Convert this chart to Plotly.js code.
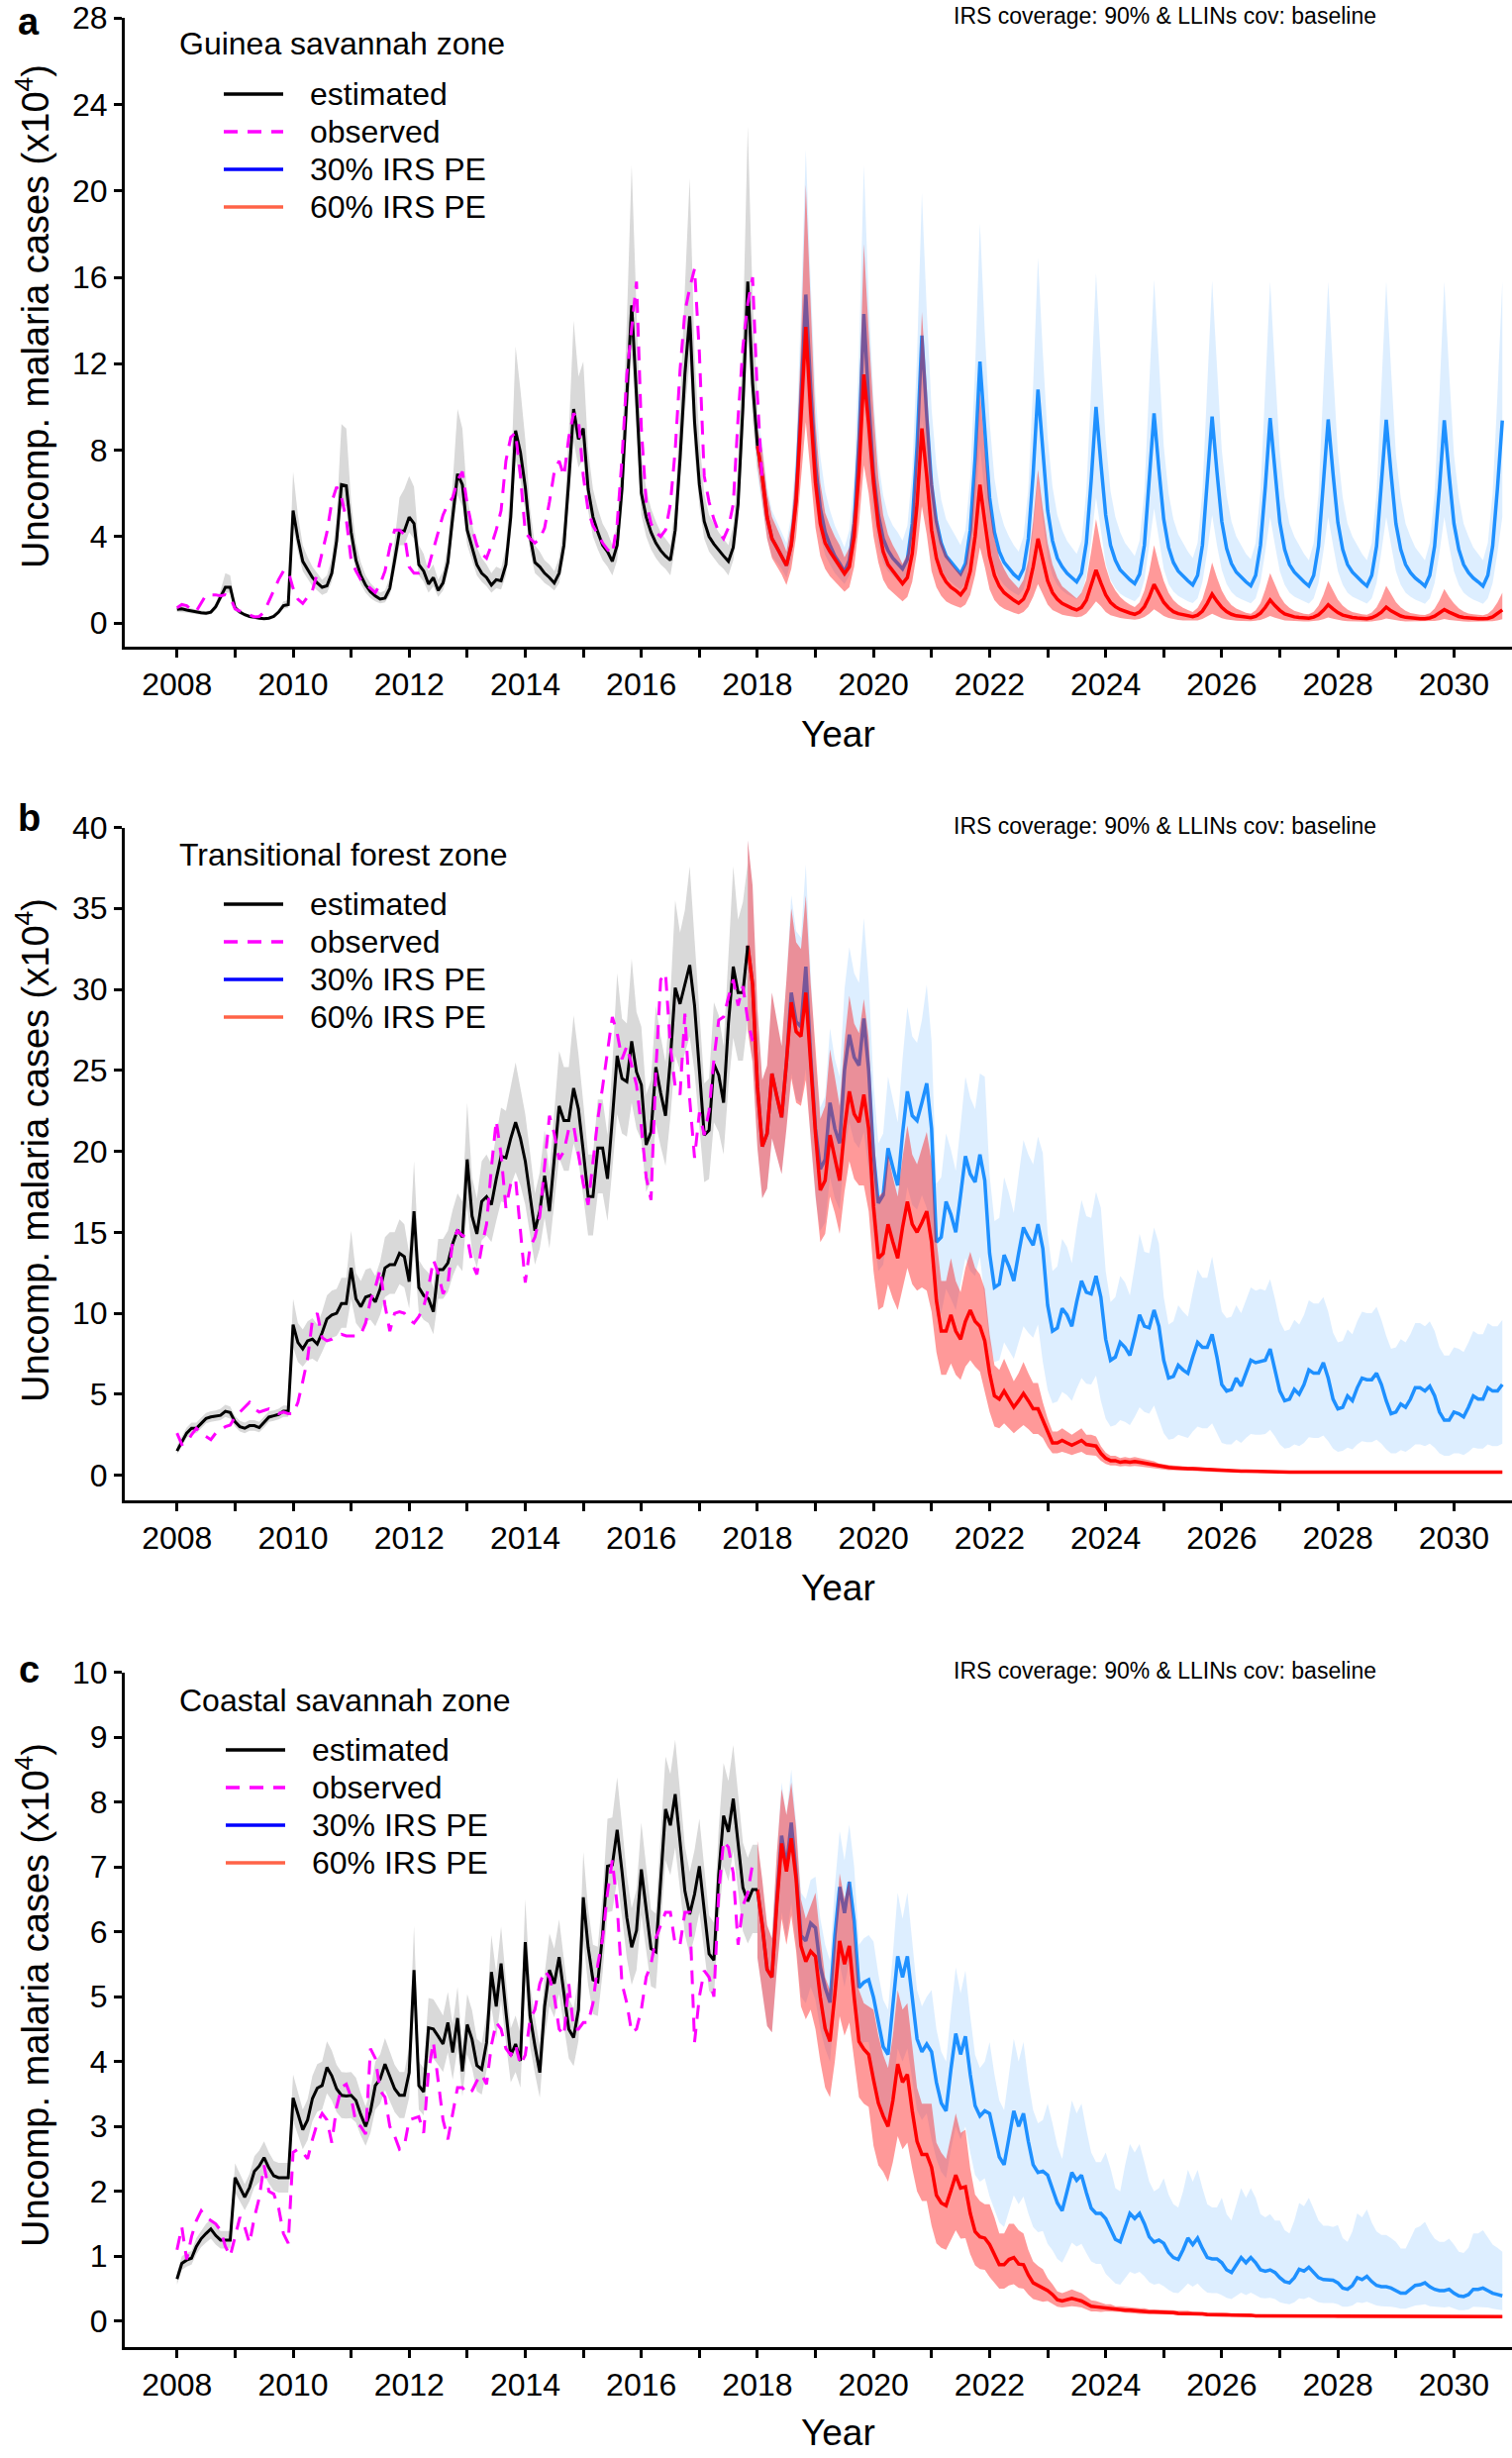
<!DOCTYPE html>
<html>
<head>
<meta charset="utf-8">
<script src="https://cdn.plot.ly/plotly-3.0.1.min.js"></script>
<style>body{margin:0;background:#fff}</style>
</head>
<body>
<div id="chart" style="width:1527px;height:2482px"></div>
<script>
// ---- axis ticks ----
const yearTicks = [2008,2010,2012,2014,2016,2018,2020,2022,2024,2026,2028,2030];
const yearLabels = ['2008','2010','2012','2014','2016','2018','2020','2022','2024','2026','2028','2030'];
const oddYears = [2009,2011,2013,2015,2017,2019,2021,2023,2025,2027,2029];
const aTicks = [0,4,8,12,16,20,24,28];
const bTicks = [0,5,10,15,20,25,30,35,40];
const cTicks = [0,1,2,3,4,5,6,7,8,9,10];

// monthly series start points (decimal years)
const histStart = 2008;
const aProjStart = 2018;
const bProjStart = 2017 + 10/12;
const cProjStart = 2018;

// ---- panel a: Guinea savannah zone ----
const aEst = [0.63,0.65,0.6,0.55,0.5,0.47,0.45,0.5,0.75,1.2,1.65,1.65,
  0.7,0.5,0.38,0.3,0.25,0.22,0.2,0.22,0.3,0.5,0.8,0.85,
  5.2,3.9,2.85,2.5,2.1,1.85,1.65,1.72,2.3,3.8,6.4,6.35,
  4.2,2.9,2.2,1.75,1.45,1.25,1.1,1.15,1.6,2.9,4.25,4.25,
  4.9,4.6,2.7,2.4,1.8,2.1,1.5,1.85,2.8,4.9,6.9,6.4,
  4.3,3.5,2.7,2.3,2.1,1.75,2.0,1.95,2.7,4.9,8.9,7.9,
  6.3,4.0,2.8,2.6,2.3,2.1,1.85,2.3,3.6,6.6,9.9,8.5,
  9.0,6.2,4.9,4.2,3.6,3.3,2.85,3.6,6.2,10.5,14.7,10.5,
  6.0,4.9,4.2,3.7,3.35,3.1,2.9,4.3,7.6,11.5,14.2,9.3,
  6.4,4.7,4.0,3.65,3.35,3.1,2.85,3.5,5.5,10.0,15.8,11.1,
  8.2];
const aEstLo = [0.5,0.5,0.48,0.44,0.4,0.38,0.36,0.4,0.6,1.0,1.4,1.4,
  0.55,0.4,0.3,0.24,0.2,0.18,0.16,0.18,0.24,0.4,0.65,0.7,
  4.4,3.3,2.4,2.05,1.7,1.5,1.3,1.4,1.9,3.1,5.4,5.4,
  3.5,2.4,1.8,1.4,1.15,1.0,0.9,0.95,1.3,2.4,3.6,3.6,
  4.2,3.9,2.2,1.9,1.4,1.7,1.2,1.5,2.3,4.2,5.9,5.4,
  3.6,2.9,2.2,1.9,1.7,1.4,1.6,1.55,2.2,4.1,7.6,6.6,
  5.2,3.3,2.3,2.1,1.85,1.7,1.5,1.85,3.0,5.6,8.4,7.2,
  7.6,5.2,4.0,3.4,2.9,2.6,2.2,2.9,5.2,8.9,12.5,8.9,
  5.0,4.0,3.4,3.0,2.7,2.5,2.2,3.5,6.4,9.8,12.1,7.9,
  5.4,3.9,3.3,3.0,2.7,2.5,2.2,2.9,4.6,8.5,13.4,9.4,
  6.9];
const aEstHi = [0.75,0.78,0.72,0.66,0.6,0.57,0.55,0.6,0.9,1.5,2.3,2.2,
  0.85,0.6,0.46,0.36,0.3,0.27,0.25,0.27,0.37,0.62,1.0,1.05,
  7.0,5.0,3.6,3.05,2.6,2.3,2.0,2.2,3.0,4.9,9.2,9.0,
  5.6,3.7,2.8,2.2,1.85,1.6,1.4,1.5,2.1,3.8,5.8,6.2,
  6.8,6.3,3.6,3.2,2.4,2.7,2.0,2.4,3.6,6.5,9.9,9.0,
  5.8,4.6,3.5,3.0,2.7,2.3,2.6,2.5,3.5,6.5,12.8,10.8,
  8.5,5.3,3.6,3.3,2.9,2.7,2.4,3.0,4.7,8.8,14.0,11.4,
  12.1,8.0,6.2,5.3,4.6,4.2,3.6,4.6,8.0,14.0,21.2,14.5,
  7.8,6.2,5.3,4.7,4.2,3.9,3.6,5.5,10.0,15.5,20.6,12.5,
  8.5,6.0,5.0,4.6,4.2,3.9,3.6,4.5,7.2,13.5,23.0,15.0,
  10.5];
const aObs = [0.7,0.85,0.8,0.6,0.55,0.9,1.3,1.3,1.3,1.25,1.3,1.2,
  0.65,0.55,0.45,0.35,0.28,0.3,0.5,1.0,1.5,2.0,2.4,2.4,
  1.6,1.1,0.9,1.2,1.5,2.3,3.2,4.2,5.6,6.3,5.8,4.8,
  2.9,2.4,2.0,1.8,1.6,1.4,1.8,2.4,3.5,4.3,4.3,4.1,
  2.6,2.3,2.3,2.4,2.6,3.4,4.1,5.0,5.5,5.8,6.6,7.0,
  5.5,4.4,3.6,3.2,3.0,3.6,4.3,5.2,7.5,8.6,8.8,6.8,
  4.2,3.9,3.7,3.9,4.4,5.6,7.0,7.5,6.8,8.6,9.7,9.4,
  6.8,5.2,4.5,4.1,3.7,3.4,3.2,4.6,7.6,11.5,13.5,15.8,
  9.0,5.6,4.6,4.2,4.0,4.3,5.5,8.0,11.7,14.4,15.5,16.4,
  12.5,6.8,5.6,4.8,4.2,3.9,4.4,5.5,9.5,12.8,14.8,16.0,
  10.5,6.5];
const aBlue = [8.2,6.8,4.9,3.9,3.5,3.1,2.66,3.65,5.9,10.4,15.2,10.9,
  7.3,5.3,4.2,3.6,3.1,2.75,2.37,2.9,4.6,8.5,14.3,10.3,
  6.9,5.0,3.9,3.35,3.0,2.75,2.5,2.95,4.6,8.2,13.3,9.6,
  6.4,4.7,3.7,3.1,2.8,2.55,2.28,2.75,4.3,7.6,12.1,8.7,
  5.8,4.2,3.3,2.8,2.5,2.25,2.05,2.5,3.9,6.9,10.8,7.8,
  5.2,3.8,3.0,2.6,2.3,2.1,1.9,2.3,3.7,6.6,10.0,7.4,
  5.0,3.6,2.9,2.45,2.2,2.0,1.82,2.25,3.6,6.5,9.7,7.1,
  4.8,3.5,2.8,2.4,2.15,1.95,1.76,2.2,3.6,6.4,9.55,7.0,
  4.7,3.45,2.75,2.35,2.1,1.9,1.72,2.2,3.6,6.3,9.48,6.9,
  4.65,3.4,2.7,2.35,2.1,1.9,1.71,2.2,3.55,6.3,9.42,6.9,
  4.65,3.4,2.7,2.35,2.1,1.9,1.71,2.2,3.55,6.3,9.4,6.9,
  4.6,3.4,2.7,2.33,2.08,1.9,1.7,2.2,3.55,6.25,9.38,6.85,
  4.6,3.4,2.7,2.33,2.08,1.9,1.7,2.2,3.55,6.25,9.37];
const aBlueHi = [9.5,8.3,6.3,5.2,4.7,4.2,3.7,5.0,8.1,14.5,21.9,15.8,
  10.6,7.7,6.1,5.2,4.5,4.0,3.5,4.3,6.8,12.5,21.2,15.0,
  10.4,7.5,5.9,5.0,4.5,4.2,3.8,4.5,7.0,12.4,19.9,14.5,
  9.9,7.3,5.7,4.8,4.4,4.0,3.6,4.3,6.7,11.8,18.5,13.5,
  9.3,6.7,5.3,4.5,4.0,3.6,3.3,4.0,6.2,11.0,16.9,12.5,
  8.6,6.3,5.0,4.3,3.8,3.5,3.2,3.8,6.1,10.9,16.2,12.2,
  8.5,6.1,4.9,4.2,3.7,3.4,3.1,3.8,6.1,11.0,15.9,12.1,
  8.2,6.0,4.8,4.1,3.7,3.3,3.0,3.7,6.1,10.9,15.85,11.9,
  8.0,5.9,4.7,4.0,3.6,3.2,2.95,3.7,6.1,10.7,15.8,11.7,
  7.9,5.8,4.6,4.0,3.6,3.2,2.9,3.7,6.0,10.7,15.8,11.7,
  7.9,5.8,4.6,4.0,3.6,3.2,2.9,3.7,6.0,10.7,15.8,11.7,
  7.8,5.8,4.6,4.0,3.5,3.2,2.9,3.7,6.0,10.6,15.8,11.6,
  7.8,5.8,4.6,4.0,3.5,3.2,2.9,3.7,6.0,10.6,15.8];
const aBlueLo = [6.9,5.5,3.9,3.1,2.8,2.5,2.1,2.9,4.6,7.9,11.3,8.0,
  5.5,4.0,3.15,2.7,2.3,2.05,1.8,2.2,3.4,6.2,10.4,7.5,
  5.0,3.6,2.8,2.4,2.15,1.95,1.8,2.1,3.3,5.8,9.4,6.8,
  4.4,3.2,2.5,2.1,1.9,1.7,1.55,1.85,2.9,5.1,8.2,5.9,
  3.6,2.6,2.05,1.75,1.55,1.4,1.27,1.55,2.4,4.3,6.7,4.8,
  3.0,2.2,1.75,1.5,1.33,1.22,1.1,1.33,2.15,3.8,5.8,4.3,
  2.75,2.0,1.6,1.35,1.2,1.1,1.0,1.24,2.0,3.6,5.3,3.9,
  2.5,1.8,1.46,1.25,1.12,1.0,0.92,1.14,1.9,3.3,5.0,3.6,
  2.45,1.8,1.43,1.22,1.1,0.99,0.9,1.14,1.9,3.3,4.9,3.6,
  2.4,1.77,1.4,1.22,1.1,0.99,0.89,1.14,1.85,3.3,4.9,3.6,
  2.4,1.77,1.4,1.22,1.1,0.99,0.89,1.14,1.85,3.3,4.9,3.6,
  2.4,1.77,1.4,1.21,1.08,0.99,0.88,1.14,1.85,3.25,4.9,3.56,
  2.4,1.77,1.4,1.21,1.08,0.99,0.88,1.14,1.85,3.25,4.9];
const aRed = [8.2,6.8,4.9,3.9,3.5,3.1,2.66,3.6,5.6,9.5,13.7,9.8,
  6.5,4.6,3.7,3.3,2.95,2.65,2.28,2.6,4.0,7.0,11.5,9.2,
  6.5,4.5,3.3,2.7,2.4,2.1,1.82,2.1,3.2,5.5,9.0,6.8,
  4.3,3.0,2.3,1.9,1.65,1.5,1.3,1.6,2.4,4.0,6.4,4.7,
  3.1,2.2,1.7,1.4,1.2,1.05,0.91,1.1,1.6,2.6,3.9,2.9,
  1.95,1.4,1.1,0.9,0.78,0.68,0.6,0.72,1.05,1.7,2.45,1.85,
  1.3,0.95,0.75,0.62,0.53,0.46,0.4,0.5,0.75,1.2,1.78,1.35,
  0.95,0.7,0.52,0.43,0.37,0.32,0.29,0.36,0.55,0.9,1.33,1.0,
  0.72,0.52,0.4,0.33,0.29,0.26,0.24,0.3,0.45,0.72,1.06,0.8,
  0.58,0.42,0.33,0.28,0.25,0.23,0.22,0.27,0.38,0.58,0.84,0.65,
  0.48,0.36,0.29,0.25,0.23,0.21,0.2,0.24,0.34,0.5,0.73,0.56,
  0.42,0.32,0.26,0.23,0.21,0.2,0.2,0.23,0.31,0.45,0.62,0.5,
  0.38,0.3,0.25,0.22,0.2,0.19,0.19,0.21,0.28,0.42,0.6];
const aRedHi = [9.0,8.0,6.0,4.9,4.4,3.9,3.3,4.6,7.3,13.0,20.3,14.5,
  9.3,6.5,5.1,4.5,4.0,3.6,3.04,3.5,5.5,10.0,17.55,13.5,
  9.8,6.7,5.0,4.1,3.6,3.2,2.73,3.2,4.9,8.6,14.4,10.9,
  7.1,5.0,3.8,3.2,2.8,2.5,2.28,2.7,4.1,6.8,10.7,8.0,
  5.5,3.9,3.0,2.5,2.1,1.85,1.6,2.0,2.9,4.7,7.1,5.3,
  3.7,2.7,2.1,1.7,1.5,1.3,1.14,1.4,2.0,3.3,4.8,3.6,
  2.6,1.9,1.5,1.2,1.0,0.85,0.73,0.95,1.5,2.4,3.6,2.7,
  1.95,1.4,1.05,0.85,0.7,0.6,0.51,0.7,1.1,1.85,2.8,2.1,
  1.5,1.1,0.82,0.66,0.55,0.47,0.43,0.58,0.92,1.55,2.3,1.75,
  1.25,0.9,0.7,0.56,0.48,0.43,0.4,0.52,0.8,1.3,1.94,1.5,
  1.08,0.8,0.62,0.5,0.44,0.4,0.38,0.48,0.72,1.15,1.72,1.32,
  0.96,0.72,0.56,0.46,0.41,0.38,0.37,0.45,0.66,1.05,1.57,1.2,
  0.9,0.68,0.53,0.44,0.4,0.37,0.36,0.43,0.62,0.95,1.4];
const aRedLo = [7.3,5.6,3.9,3.0,2.6,2.25,1.75,2.5,4.0,6.5,9.3,6.9,
  4.4,3.1,2.5,2.15,1.9,1.7,1.45,1.65,2.6,4.6,7.3,6.0,
  4.0,2.8,2.0,1.6,1.4,1.2,1.0,1.2,1.9,3.3,5.4,4.1,
  2.4,1.65,1.25,1.0,0.87,0.78,0.7,0.85,1.3,2.2,3.5,2.6,
  1.55,1.05,0.8,0.65,0.55,0.47,0.4,0.5,0.75,1.2,1.8,1.35,
  0.85,0.6,0.47,0.38,0.33,0.29,0.26,0.3,0.44,0.7,1.0,0.78,
  0.5,0.36,0.28,0.23,0.2,0.17,0.15,0.18,0.27,0.43,0.63,0.48,
  0.32,0.23,0.17,0.14,0.12,0.11,0.1,0.12,0.18,0.29,0.42,0.32,
  0.22,0.16,0.12,0.1,0.09,0.08,0.08,0.1,0.14,0.22,0.32,0.24,
  0.17,0.12,0.1,0.08,0.08,0.07,0.07,0.08,0.11,0.17,0.25,0.19,
  0.14,0.1,0.08,0.07,0.07,0.06,0.06,0.07,0.1,0.14,0.21,0.16,
  0.12,0.09,0.07,0.07,0.06,0.06,0.06,0.07,0.09,0.13,0.18,0.14,
  0.11,0.08,0.07,0.06,0.06,0.06,0.06,0.06,0.08,0.12,0.17];

// ---- panel b: Transitional forest zone ----
const bEst = [1.5,2.1,2.6,2.9,2.9,3.2,3.5,3.6,3.65,3.7,3.95,3.87,
  3.3,3.0,2.9,3.06,3.06,2.94,3.26,3.59,3.67,3.75,3.95,3.95,
  9.3,8.2,7.8,8.3,8.4,8.1,8.8,9.65,9.9,10.0,10.6,10.6,
  12.8,10.9,10.4,11.0,11.1,10.7,11.5,12.8,13.0,13.0,13.7,13.5,
  11.95,16.3,11.6,11.1,10.9,10.1,12.7,12.7,13.1,14.3,15.15,14.7,
  19.5,16.0,14.9,16.9,17.2,16.7,18.3,19.7,19.6,20.8,21.8,20.8,
  19.4,17.3,15.1,16.3,18.5,16.3,19.6,22.8,21.9,21.9,23.9,22.6,
  20.0,17.2,17.2,20.2,20.2,18.3,22.0,25.9,24.5,24.3,26.8,24.9,
  24.1,20.4,21.2,25.2,23.6,22.2,25.7,30.1,29.1,30.3,31.5,29.0,
  24.9,21.0,21.3,25.4,24.7,23.0,27.9,31.4,29.8,29.8,32.7];
const bEstLo = [1.3,1.8,2.3,2.6,2.6,2.9,3.2,3.3,3.35,3.4,3.6,3.5,
  3.0,2.7,2.6,2.75,2.75,2.65,2.95,3.3,3.35,3.45,3.6,3.6,
  7.9,7.0,6.7,7.1,7.2,7.0,7.6,8.3,8.5,8.6,9.1,9.1,
  10.9,9.4,9.0,9.5,9.6,9.2,9.9,11.0,11.2,11.2,11.8,11.6,
  10.3,13.9,10.0,9.6,9.4,8.7,10.9,10.9,11.3,12.3,13.0,12.6,
  16.6,13.8,12.8,14.5,14.8,14.4,15.7,16.9,16.8,17.9,18.7,17.9,
  16.7,14.9,13.0,14.0,15.9,14.0,16.9,19.6,18.8,18.8,20.5,19.4,
  17.2,14.8,14.8,17.4,17.4,15.7,18.9,22.3,21.1,20.9,23.0,21.4,
  20.7,17.5,18.2,21.7,20.3,19.1,22.1,25.9,25.0,26.1,27.1,24.9,
  21.4,18.1,18.3,21.8,21.2,19.8,24.0,27.0,25.6,25.6,28.1];
const bEstHi = [1.85,2.45,2.95,3.25,3.25,3.55,3.85,3.95,4.0,4.1,4.35,4.25,
  3.65,3.35,3.25,3.4,3.4,3.3,3.6,3.95,4.0,4.1,4.3,4.3,
  10.9,9.4,9.0,9.5,9.7,9.3,10.1,11.1,11.4,11.5,12.2,12.2,
  15.1,12.5,12.0,12.7,12.8,12.3,13.2,14.7,15.0,15.0,15.8,15.5,
  13.7,19.4,13.3,12.8,12.5,11.6,14.6,14.6,15.1,16.4,17.4,16.9,
  23.0,18.4,17.1,19.4,19.8,19.2,21.0,22.7,22.5,23.9,25.5,23.9,
  22.3,19.9,17.4,18.7,21.3,18.7,22.5,26.2,25.2,25.2,28.4,26.0,
  23.0,19.8,19.8,23.2,23.2,21.0,25.3,31.0,28.2,27.9,31.9,28.6,
  27.7,23.5,24.4,29.0,27.1,25.5,29.6,35.5,33.5,34.9,37.6,33.4,
  28.6,24.2,24.5,29.2,28.4,26.5,32.1,37.6,34.3,35.4,37.8];
const bObs = [2.6,1.9,2.0,2.5,2.9,2.6,2.4,2.2,2.6,2.8,3.0,3.1,
  3.6,3.9,4.2,4.5,4.1,3.9,4.0,4.1,3.9,3.8,3.9,3.8,
  3.8,4.5,5.8,7.2,9.6,10.0,8.5,8.3,8.4,8.6,8.7,8.6,
  8.6,8.6,8.7,9.4,10.8,11.6,12.7,10.5,8.9,10.0,10.1,10.0,
  9.6,9.4,9.8,10.4,11.6,13.3,12.5,11.2,11.8,14.5,15.1,14.8,
  14.7,13.1,12.4,14.1,15.5,19.0,21.9,19.8,16.5,18.0,18.3,15.0,
  11.9,14.1,14.7,16.0,19.0,22.2,21.1,19.5,20.0,21.4,21.6,19.8,
  18.0,16.7,19.2,22.0,24.0,26.1,28.3,27.3,25.7,26.5,25.3,24.1,
  21.5,18.4,17.0,25.0,30.6,31.0,26.5,24.0,23.5,28.5,23.2,19.6,
  22.4,21.0,22.5,25.7,28.1,28.3,29.5,30.6,29.0,30.2,28.1,26.8];
const bBlue = [32.7,30.3,24.0,20.3,21.1,24.8,23.4,22.1,25.5,29.8,28.0,27.7,
  31.4,25.9,21.4,18.9,19.5,23.0,21.4,20.5,25.0,27.2,25.8,25.3,
  28.2,25.0,19.8,16.8,17.3,20.2,19.0,17.9,21.1,23.7,22.2,21.9,
  23.0,
  24.2,21.4,14.4,14.7,16.9,16.1,15.0,17.3,19.7,18.6,18.1,19.8,
  18.2,13.7,11.6,11.8,13.6,12.9,12.0,13.7,15.3,14.7,14.2,15.5,
  14.0,10.5,8.9,9.1,10.3,9.9,9.2,10.7,12.0,11.3,11.2,12.3,
  11.0,8.4,7.1,7.3,8.2,7.9,7.4,8.6,9.9,9.2,9.1,10.2,
  9.2,7.1,6.0,6.1,6.8,6.5,6.3,7.3,8.2,7.9,7.9,8.7,
  7.3,5.6,5.2,5.3,6.0,5.5,6.3,7.1,
  6.95,7.0,
  7.1,7.8,6.6,5.2,4.6,4.7,5.3,5.0,5.6,6.5,6.3,6.3,
  6.95,6.0,4.7,4.1,4.2,4.9,4.6,5.4,6.0,5.9,5.9,6.3,
  5.6,4.6,3.8,3.9,4.4,4.2,4.7,5.4,5.4,5.2,5.5,4.9,
  3.9,3.4,3.4,3.9,3.8,3.6,4.2,4.9,4.7,4.7,5.4,5.2,5.2,5.6];
const bBlueHi = [39.2,36.4,28.8,24.4,25.3,29.8,28.1,26.5,30.6,35.8,33.6,33.2,
  37.7,31.1,25.7,22.7,23.4,27.6,25.7,24.6,30.0,32.6,31.0,30.4,
  34.4,30.5,24.2,20.5,21.1,24.6,23.2,21.8,25.7,28.9,27.1,26.7,
  28.1,
  30.3,26.8,18.0,18.4,21.1,20.1,18.8,21.6,24.6,23.3,22.6,24.8,
  24.6,18.5,15.7,15.9,18.4,17.4,16.2,18.5,20.7,19.8,19.2,20.9,
  19.9,14.9,12.6,12.9,14.6,14.1,13.1,15.2,17.0,16.0,15.9,17.5,
  16.5,12.6,10.7,11.0,12.3,11.9,11.1,12.9,14.9,13.8,13.7,15.3,
  14.3,11.0,9.3,9.5,10.5,10.1,9.8,11.3,12.7,12.2,12.2,13.5,
  11.8,10.1,9.7,9.8,10.5,10.0,10.8,11.6,
  11.4,11.5,
  11.4,12.1,10.9,9.5,8.9,9.0,9.6,9.3,9.9,10.8,10.6,10.6,
  11.0,10.1,8.8,8.2,8.3,9.0,8.7,9.5,10.1,10.0,10.0,10.4,
  9.6,8.6,7.8,7.9,8.4,8.2,8.7,9.4,9.4,9.2,9.5,8.9,
  7.9,7.4,7.4,7.9,7.8,7.6,8.2,8.9,8.7,8.7,9.4,9.2,9.2,9.6];
const bBlueLo = [27.5,25.5,20.2,17.1,17.7,20.8,19.7,18.6,21.4,24.8,23.2,23.0,
  25.1,20.7,17.1,15.1,15.6,18.4,17.1,16.4,20.0,21.8,20.6,20.2,
  21.2,18.8,14.9,12.6,13.0,15.2,14.3,13.4,15.8,17.8,16.7,16.4,
  17.3,
  16.5,14.6,9.8,10.0,11.5,10.9,10.2,11.8,13.4,12.6,12.3,13.5,
  10.9,8.2,7.0,7.1,8.2,7.7,7.2,8.2,9.2,8.8,8.5,9.3,
  7.0,5.25,4.45,4.55,5.15,4.95,4.6,5.35,6.0,5.65,5.6,6.15,
  4.6,3.5,3.0,3.1,3.4,3.3,3.1,3.6,4.2,3.9,3.8,4.3,
  3.4,2.6,2.2,2.25,2.5,2.4,2.3,2.7,3.0,2.9,2.9,3.2,
  2.6,2.0,1.9,1.9,2.2,2.0,2.3,2.55,
  2.5,2.5,
  2.55,2.8,2.4,1.9,1.65,1.7,1.9,1.8,2.0,2.35,2.3,2.3,
  2.45,2.1,1.65,1.45,1.5,1.7,1.6,1.9,2.1,2.05,2.05,2.2,
  1.95,1.6,1.35,1.35,1.55,1.45,1.65,1.9,1.9,1.8,1.95,1.7,
  1.35,1.2,1.2,1.35,1.35,1.25,1.45,1.7,1.65,1.65,1.9,1.8,1.8,1.95];
const bRed = [32.7,30.3,24.0,20.3,21.1,24.8,23.4,22.1,25.5,29.2,27.4,27.1,
  29.8,25.3,21.1,17.6,18.2,21.0,19.7,18.2,21.4,23.7,22.3,21.8,
  23.5,21.4,16.6,13.4,13.7,15.5,14.4,13.4,15.3,16.9,15.5,15.0,
  15.6,
  16.3,14.4,10.8,8.9,8.9,9.9,8.9,8.4,9.5,10.2,9.5,9.2,
  8.3,6.3,4.9,4.7,5.2,4.7,4.2,4.6,5.05,4.6,4.1,4.1,
  3.4,2.6,2.0,2.0,2.15,2.0,1.85,2.0,2.15,1.9,1.85,1.8,
  1.35,1.05,0.9,0.9,0.8,0.85,0.8,0.85,0.8,0.75,0.7,0.65,
  0.55,0.5,0.48,0.46,0.43,0.42,0.4,0.4,0.38,0.36,0.36,0.33,
  0.3,0.28,0.27,0.26,0.25,0.25,0.25,0.24,
  0.24,0.25,
  0.25,0.24,0.23,0.22,0.21,0.2,0.2,0.21,0.21,0.21,0.2,0.2,
  0.2,0.19,0.19,0.19,0.2,0.2,0.2,0.2,0.19,0.19,0.18,0.18,
  0.18,0.19,0.19,0.19,0.19,0.18,0.18,0.18,0.18,0.18,0.18,0.19,
  0.19,0.19,0.19,0.18,0.18,0.18,0.18,0.18,0.19,0.19,0.19,0.2,0.2,0.2];
const bRedHi = [39.2,36.4,28.8,24.4,25.3,29.8,28.1,26.5,30.6,35.0,32.9,32.5,
  35.8,30.4,26.4,22.0,22.8,26.3,24.6,22.8,26.8,29.6,27.9,27.3,
  29.4,27.0,21.2,17.2,17.5,19.8,18.4,17.2,19.6,21.6,19.8,19.2,
  20.2,
  21.2,19.4,14.6,12.0,12.0,13.4,12.0,11.3,12.8,13.8,12.8,12.4,
  11.5,8.7,6.8,6.5,7.2,6.5,5.8,6.3,7.0,6.3,5.7,5.7,
  4.5,3.5,2.7,2.7,2.9,2.7,2.5,2.7,2.9,2.5,2.5,2.4,
  1.8,1.4,1.2,1.2,1.07,1.13,1.07,1.13,1.07,1.0,0.93,0.87,
  0.73,0.66,0.63,0.6,0.57,0.56,0.53,0.53,0.5,0.48,0.48,0.44,
  0.4,0.37,0.36,0.35,0.33,0.33,0.33,0.32,
  0.32,0.33,
  0.33,0.32,0.31,0.29,0.28,0.27,0.27,0.28,0.28,0.28,0.27,0.27,
  0.27,0.25,0.25,0.25,0.27,0.27,0.27,0.27,0.25,0.25,0.24,0.24,
  0.24,0.25,0.25,0.25,0.25,0.24,0.24,0.24,0.24,0.24,0.24,0.25,
  0.25,0.25,0.25,0.24,0.24,0.24,0.24,0.24,0.25,0.25,0.25,0.27,0.27,0.27];
const bRedLo = [27.5,25.5,20.2,17.1,17.7,20.8,19.7,18.6,21.4,24.5,23.0,22.8,
  24.4,20.7,17.3,14.4,14.9,17.2,16.2,14.9,17.5,19.4,18.3,17.9,
  17.9,16.3,12.6,10.2,10.4,11.8,10.9,10.2,11.6,12.8,11.8,11.4,
  11.6,
  11.4,10.1,7.6,6.2,6.2,6.9,6.2,5.9,6.7,7.1,6.7,6.4,
  5.1,3.9,3.0,2.9,3.2,2.9,2.6,2.85,3.1,2.85,2.55,2.55,
  2.3,1.75,1.35,1.35,1.45,1.35,1.25,1.35,1.45,1.27,1.25,1.2,
  0.9,0.7,0.6,0.6,0.54,0.57,0.54,0.57,0.54,0.5,0.47,0.44,
  0.37,0.33,0.32,0.31,0.29,0.28,0.27,0.27,0.25,0.24,0.24,0.22,
  0.2,0.19,0.18,0.17,0.17,0.17,0.17,0.16,
  0.16,0.17,
  0.17,0.16,0.15,0.15,0.14,0.13,0.13,0.14,0.14,0.14,0.13,0.13,
  0.13,0.13,0.13,0.13,0.13,0.13,0.13,0.13,0.13,0.13,0.12,0.12,
  0.12,0.12,0.12,0.12,0.12,0.12,0.12,0.12,0.12,0.12,0.12,0.12,
  0.12,0.12,0.12,0.12,0.12,0.12,0.12,0.12,0.12,0.12,0.12,0.13,0.13,0.13];

// ---- panel c: Coastal savannah zone ----
const cEst = [0.65,0.89,0.94,0.97,1.15,1.27,1.35,1.42,1.32,1.25,1.25,1.25,
  2.21,2.06,1.91,2.06,2.31,2.39,2.52,2.36,2.24,2.21,2.21,2.21,
  3.44,3.2,2.95,3.1,3.43,3.59,3.63,3.91,3.78,3.58,3.48,3.47,
  3.48,3.4,3.18,3.0,3.23,3.63,3.73,3.96,3.78,3.58,3.48,3.48,
  3.83,5.41,3.63,3.53,4.52,4.5,4.39,4.27,4.6,4.14,4.67,3.85,
  4.57,4.34,3.94,3.88,4.29,5.38,4.85,5.51,4.77,4.09,4.27,4.01,
  5.84,4.7,4.24,3.83,4.85,5.41,5.2,5.61,5.05,4.5,4.37,4.8,
  6.53,5.76,5.26,5.23,5.97,7.01,7.03,7.57,6.93,6.22,5.76,6.02,
  6.96,6.32,5.74,5.69,6.83,7.89,7.64,8.12,7.39,6.63,6.27,6.58,
  7.01,6.37,5.66,5.56,6.88,7.79,7.54,8.05,7.34,6.68,6.47,6.65,
  6.65];
const cEstHi = [0.75,1.0,1.05,1.08,1.28,1.4,1.5,1.57,1.47,1.39,1.39,1.39,
  2.43,2.27,2.11,2.27,2.54,2.63,2.77,2.6,2.47,2.44,2.44,2.44,
  3.8,3.53,3.26,3.42,3.78,3.96,4.0,4.31,4.17,3.95,3.84,3.83,
  3.84,3.75,3.51,3.31,3.56,4.0,4.11,4.36,4.17,3.95,3.84,3.84,
  4.22,6.09,4.0,3.9,4.98,4.96,4.84,4.71,5.07,4.57,5.15,4.25,
  5.04,4.79,4.35,4.28,4.73,5.95,5.36,6.08,5.26,4.51,4.71,4.43,
  6.5,5.19,4.68,4.23,5.35,5.97,5.74,6.19,5.57,4.97,4.82,5.3,
  7.23,6.36,5.8,5.77,6.59,7.74,7.76,8.38,7.65,6.87,6.36,6.65,
  7.68,6.98,6.34,6.28,7.54,8.7,8.43,8.96,8.16,7.32,6.92,7.26,
  7.74,7.03,6.25,6.14,7.6,8.6,8.32,8.88,8.1,7.37,7.14,7.34,
  7.34];
const cEstLo = [0.56,0.79,0.84,0.87,1.03,1.14,1.21,1.27,1.18,1.12,1.12,1.12,
  1.98,1.85,1.71,1.85,2.07,2.14,2.26,2.12,2.01,1.98,1.98,1.98,
  3.09,2.88,2.65,2.79,3.08,3.23,3.26,3.51,3.4,3.22,3.13,3.12,
  3.13,3.06,2.86,2.7,2.9,3.26,3.35,3.56,3.4,3.22,3.13,3.13,
  3.44,4.85,3.26,3.17,4.06,4.05,3.95,3.84,4.14,3.72,4.2,3.46,
  4.11,3.9,3.54,3.49,3.86,4.84,4.36,4.95,4.29,3.68,3.84,3.6,
  5.25,4.23,3.81,3.44,4.36,4.86,4.68,5.04,4.54,4.05,3.93,4.32,
  5.87,5.18,4.73,4.7,5.37,6.3,6.32,6.81,6.23,5.59,5.18,5.41,
  6.26,5.68,5.16,5.12,6.14,7.1,6.87,7.3,6.65,5.96,5.64,5.92,
  6.3,5.73,5.09,5.0,6.19,7.01,6.78,7.24,6.6,6.01,5.82,5.98,
  5.98];
const cObs = [1.1,1.45,0.95,1.3,1.55,1.7,1.6,1.55,1.5,1.4,1.15,1.0,
  1.3,1.6,1.45,1.2,1.6,1.9,2.4,2.0,1.96,1.75,1.35,1.2,
  2.6,2.65,2.6,2.5,2.8,3.05,3.2,3.1,2.75,3.3,3.6,3.65,
  3.45,3.05,3.0,2.88,4.2,4.05,3.55,3.45,3.0,2.85,2.65,2.7,
  3.1,3.13,3.15,2.9,3.85,4.3,3.7,3.1,2.8,3.2,3.6,3.6,
  3.5,3.55,3.7,3.8,3.65,4.25,4.6,4.5,4.2,4.1,4.25,3.95,
  4.1,4.65,4.8,5.2,5.4,5.3,5.0,4.5,4.4,5.2,4.5,4.5,
  4.6,4.6,4.9,5.5,5.9,6.6,7.1,6.4,5.2,4.9,4.45,4.5,
  4.8,5.3,5.5,5.9,6.1,6.3,6.3,5.8,5.8,6.3,6.3,4.3,
  5.0,5.4,5.3,5.0,6.6,7.4,7.3,6.9,5.8,6.4,6.6,7.05];
const cBlue = [6.65,6.1,5.42,5.3,6.49,7.48,7.0,7.68,6.89,5.94,5.86,6.13,
  6.06,5.46,5.14,4.91,5.94,6.69,6.29,6.77,6.17,5.14,5.22,5.26,
  4.99,4.59,4.23,4.11,4.83,5.62,5.3,5.62,4.99,4.35,4.15,4.27,
  4.15,3.68,3.36,3.24,3.88,4.43,4.11,4.39,3.8,3.32,3.16,3.24,
  3.2,2.85,2.53,2.41,2.85,3.24,3.0,3.2,2.77,2.41,2.29,2.31,
  2.25,2.05,1.82,1.7,1.98,2.29,2.17,2.25,1.98,1.74,1.66,1.66,
  1.58,1.42,1.26,1.22,1.46,1.66,1.58,1.66,1.5,1.3,1.22,1.25,
  1.2,1.06,0.98,0.95,1.1,1.28,1.18,1.28,1.12,0.98,0.96,0.96,
  0.9,0.79,0.75,0.87,0.98,0.9,0.98,0.9,0.79,0.77,0.79,0.75,
  0.67,0.61,0.59,0.67,0.8,0.77,0.83,0.75,0.67,0.64,0.64,0.63,
  0.59,0.51,0.49,0.55,0.67,0.64,0.69,0.61,0.55,0.53,0.53,0.51,
  0.47,0.43,0.43,0.49,0.55,0.56,0.59,0.53,0.49,0.47,0.47,0.49,
  0.43,0.39,0.38,0.41,0.49,0.49,0.51,0.47,0.43,0.41,0.39];
const cBlueHi = [7.4,6.8,6.1,5.9,7.2,8.3,7.8,8.5,7.7,6.6,6.5,6.8,
  6.85,6.2,5.8,5.55,6.7,7.55,7.1,7.65,7.0,5.8,5.9,5.95,
  5.85,5.35,4.95,4.8,5.65,6.6,6.2,6.6,5.85,5.1,4.85,5.0,
  5.1,4.5,4.15,4.0,4.75,5.45,5.05,5.4,4.7,4.1,3.9,4.0,
  4.3,3.8,3.4,3.25,3.8,4.35,4.0,4.3,3.7,3.25,3.05,3.1,
  3.35,3.05,2.7,2.5,2.95,3.4,3.2,3.35,2.95,2.6,2.45,2.45,
  2.6,2.35,2.05,2.0,2.4,2.73,2.6,2.73,2.45,2.15,2.0,2.05,
  2.2,1.95,1.8,1.75,2.0,2.33,2.15,2.33,2.05,1.8,1.75,1.75,
  1.9,1.65,1.55,1.8,2.05,1.9,2.05,1.9,1.65,1.6,1.65,1.55,
  1.55,1.4,1.35,1.55,1.82,1.77,1.9,1.73,1.55,1.47,1.47,1.45,
  1.48,1.28,1.22,1.38,1.66,1.6,1.72,1.52,1.38,1.33,1.33,1.28,
  1.22,1.12,1.12,1.27,1.43,1.46,1.53,1.38,1.27,1.22,1.22,1.27,
  1.18,1.07,1.05,1.13,1.35,1.35,1.4,1.29,1.18,1.13,1.07];
const cBlueLo = [5.6,5.1,4.55,4.45,5.45,6.3,5.9,6.45,5.8,5.0,4.9,5.15,
  4.95,4.5,4.2,4.0,4.85,5.5,5.15,5.55,5.05,4.2,4.3,4.3,
  3.75,3.45,3.15,3.1,3.6,4.2,4.0,4.2,3.75,3.25,3.1,3.2,
  2.8,2.5,2.3,2.2,2.65,3.0,2.8,3.0,2.6,2.25,2.15,2.2,
  1.92,1.71,1.52,1.45,1.71,1.94,1.8,1.92,1.66,1.45,1.37,1.39,
  1.19,1.09,0.96,0.9,1.05,1.21,1.15,1.19,1.05,0.92,0.88,0.88,
  0.73,0.65,0.58,0.56,0.67,0.76,0.73,0.76,0.69,0.6,0.56,0.58,
  0.54,0.48,0.44,0.43,0.5,0.58,0.53,0.58,0.5,0.44,0.43,0.43,
  0.4,0.36,0.34,0.39,0.44,0.4,0.44,0.4,0.36,0.35,0.36,0.34,
  0.29,0.27,0.26,0.29,0.35,0.34,0.37,0.33,0.29,0.28,0.28,0.28,
  0.26,0.22,0.22,0.24,0.29,0.28,0.3,0.27,0.24,0.23,0.23,0.22,
  0.21,0.19,0.19,0.22,0.24,0.25,0.26,0.23,0.22,0.21,0.21,0.22,
  0.19,0.17,0.17,0.18,0.22,0.22,0.22,0.21,0.19,0.18,0.17];
const cRed = [6.65,6.1,5.42,5.3,6.41,7.36,6.93,7.44,6.81,5.78,5.54,5.7,
  5.62,4.99,4.51,4.31,5.03,5.86,5.5,5.78,4.99,4.31,4.19,4.11,
  3.72,3.36,3.16,3.0,3.4,3.96,3.68,3.8,3.24,2.77,2.57,2.57,
  2.37,1.94,1.82,1.78,2.01,2.25,2.05,2.07,1.66,1.38,1.3,1.28,
  1.18,1.02,0.87,0.87,0.95,0.98,0.88,0.87,0.71,0.59,0.55,0.51,
  0.47,0.41,0.33,0.31,0.33,0.35,0.33,0.31,0.27,0.23,0.22,0.21,
  0.2,0.2,0.18,0.18,0.17,0.17,0.16,0.15,0.15,0.14,0.14,0.14,
  0.13,0.13,0.13,0.12,0.12,0.12,0.11,0.11,0.11,0.1,0.1,0.1,
  0.1,0.1,0.09,0.09,0.09,0.09,0.09,0.08,0.08,0.08,0.08,0.08,
  0.08,0.08,0.08,0.08,0.07,0.07,0.07,0.07,0.07,0.07,0.07,0.07,
  0.07,0.07,0.07,0.07,0.07,0.07,0.07,0.07,0.07,0.07,0.07,0.07,
  0.07,0.07,0.07,0.07,0.07,0.07,0.07,0.07,0.07,0.07,0.07,0.07,
  0.07,0.07,0.07,0.07,0.07,0.07,0.07,0.07,0.07,0.07,0.07];
const cRedHi = [7.4,6.8,6.1,5.9,7.2,8.2,7.8,8.3,7.6,6.5,6.2,6.4,
  6.6,5.9,5.3,5.1,5.9,6.9,6.5,6.8,5.9,5.1,4.9,4.85,
  4.8,4.4,4.1,3.9,4.4,5.1,4.8,4.9,4.2,3.6,3.35,3.35,
  3.35,2.75,2.6,2.5,2.85,3.2,2.9,2.95,2.35,1.95,1.85,1.8,
  1.8,1.6,1.35,1.35,1.5,1.5,1.4,1.35,1.1,0.92,0.85,0.8,
  0.66,0.57,0.46,0.43,0.46,0.49,0.46,0.43,0.38,0.32,0.31,0.29,
  0.26,0.26,0.23,0.23,0.22,0.22,0.21,0.2,0.2,0.18,0.18,0.18,
  0.17,0.17,0.17,0.16,0.16,0.16,0.14,0.14,0.14,0.13,0.13,0.13,
  0.13,0.13,0.12,0.12,0.12,0.12,0.12,0.1,0.1,0.1,0.1,0.1,
  0.1,0.1,0.1,0.1,0.09,0.09,0.09,0.09,0.09,0.09,0.09,0.09,
  0.09,0.09,0.09,0.09,0.09,0.09,0.09,0.09,0.09,0.09,0.09,0.09,
  0.09,0.09,0.09,0.09,0.09,0.09,0.09,0.09,0.09,0.09,0.09,0.09,
  0.09,0.09,0.09,0.09,0.09,0.09,0.09,0.09,0.09,0.09,0.09];
const cRedLo = [5.6,5.1,4.55,4.45,5.4,6.2,5.8,6.25,5.7,4.85,4.65,4.8,
  4.5,4.0,3.6,3.45,4.0,4.7,4.4,4.6,4.0,3.45,3.35,3.3,
  2.7,2.4,2.3,2.15,2.45,2.85,2.65,2.75,2.35,2.0,1.85,1.85,
  1.47,1.2,1.13,1.1,1.25,1.4,1.27,1.28,1.03,0.86,0.8,0.79,
  0.68,0.59,0.5,0.5,0.55,0.57,0.51,0.5,0.41,0.34,0.32,0.3,
  0.31,0.27,0.22,0.21,0.22,0.23,0.22,0.21,0.18,0.15,0.15,0.14,
  0.15,0.15,0.14,0.14,0.13,0.13,0.12,0.11,0.11,0.1,0.1,0.1,
  0.1,0.1,0.1,0.09,0.09,0.09,0.08,0.08,0.08,0.08,0.08,0.08,
  0.08,0.08,0.07,0.07,0.07,0.07,0.07,0.06,0.06,0.06,0.06,0.06,
  0.06,0.06,0.06,0.06,0.06,0.06,0.06,0.06,0.06,0.06,0.06,0.06,
  0.05,0.05,0.05,0.05,0.05,0.05,0.05,0.05,0.05,0.05,0.05,0.05,
  0.05,0.05,0.05,0.05,0.05,0.05,0.05,0.05,0.05,0.05,0.05,0.05,
  0.05,0.05,0.05,0.05,0.05,0.05,0.05,0.05,0.05,0.05,0.05];

// ---- styling ----
const FONT = 'Liberation Sans, Arial, Helvetica, sans-serif';
const GREY = '#d9d9d9';
const BLUE_FILL = 'rgba(30,144,255,0.15)';
const RED_FILL = 'rgba(255,0,0,0.4)';
const W = 1527, H = 2482;
const px = v => v / W;
const py = v => 1 - v / H;

function band(start, lo, hi, fill, n) {
  const xa = 'x' + (n === 1 ? '' : n), ya = 'y' + (n === 1 ? '' : n);
  return [
    {type: 'scatter', mode: 'lines', x0: start, dx: 1/12, y: lo, xaxis: xa, yaxis: ya,
     line: {width: 0, color: fill}, hoverinfo: 'skip', showlegend: false},
    {type: 'scatter', mode: 'lines', x0: start, dx: 1/12, y: hi, xaxis: xa, yaxis: ya,
     fill: 'tonexty', fillcolor: fill, line: {width: 0, color: fill}, hoverinfo: 'skip', showlegend: false}
  ];
}
function series(start, vals, color, width, dash, n) {
  return {type: 'scatter', mode: 'lines', x0: start, dx: 1/12, y: vals,
    xaxis: 'x' + (n === 1 ? '' : n), yaxis: 'y' + (n === 1 ? '' : n),
    line: {color: color, width: width, dash: dash}, hoverinfo: 'skip', showlegend: false};
}
function panelTraces(n, p) {
  return [].concat(
    band(histStart, p.estLo, p.estHi, GREY, n),
    band(p.proj, p.blueLo, p.blueHi, BLUE_FILL, n),
    [series(p.proj, p.blue, '#1e90ff', 3.5, 'solid', n)],
    band(p.proj, p.redLo, p.redHi, RED_FILL, n),
    [series(p.proj, p.red, '#ff0000', 3.5, 'solid', n)],
    [series(histStart, p.est, 'black', 3, 'solid', n)],
    [series(histStart, p.obs, '#ff00ff', 3, '14px,10px', n)]
  );
}

const data = [].concat(
  panelTraces(1, {est: aEst, estLo: aEstLo, estHi: aEstHi, obs: aObs, proj: aProjStart,
    blue: aBlue, blueLo: aBlueLo, blueHi: aBlueHi, red: aRed, redLo: aRedLo, redHi: aRedHi}),
  panelTraces(2, {est: bEst, estLo: bEstLo, estHi: bEstHi, obs: bObs, proj: bProjStart,
    blue: bBlue, blueLo: bBlueLo, blueHi: bBlueHi, red: bRed, redLo: bRedLo, redHi: bRedHi}),
  panelTraces(3, {est: cEst, estLo: cEstLo, estHi: cEstHi, obs: cObs, proj: cProjStart,
    blue: cBlue, blueLo: cBlueLo, blueHi: cBlueHi, red: cRed, redLo: cRedLo, redHi: cRedHi})
);

function xAxis(anchor) {
  return {domain: [px(126), 1], range: [2007.1, 2031.0], anchor: anchor,
    tickmode: 'array', tickvals: yearTicks, ticktext: yearLabels,
    ticks: 'outside', ticklen: 8, tickwidth: 3, tickcolor: 'black',
    minor: {tickmode: 'array', tickvals: oddYears, ticks: 'outside', ticklen: 8, tickwidth: 3,
      tickcolor: 'black', showgrid: false},
    showline: true, linewidth: 3, linecolor: 'black',
    showgrid: false, zeroline: false, ticklabelstandoff: 0, ticklabeloverflow: 'allow',
    tickfont: {family: FONT, size: 32, color: 'black'}};
}
function yAxis(anchor, dom, range, ticks) {
  return {domain: dom, range: range, anchor: anchor,
    tickmode: 'array', tickvals: ticks,
    ticks: 'outside', ticklen: 8, tickwidth: 3, tickcolor: 'black',
    showline: true, linewidth: 3, linecolor: 'black',
    showgrid: false, zeroline: false, ticklabelstandoff: 0, ticklabeloverflow: 'allow',
    tickfont: {family: FONT, size: 32, color: 'black'}};
}

const annotations = [];
const shapes = [];
const legendItems = [
  {label: 'estimated', color: 'black', dash: 'solid'},
  {label: 'observed', color: '#ff00ff', dash: '14px,10px'},
  {label: '30% IRS PE', color: '#0000ff', dash: 'solid'},
  {label: '60% IRS PE', color: '#ff6347', dash: 'solid'}
];
const panels = [
  {letter: 'a', zone: 'Guinea savannah zone', letterY: 22, irsY: 16, yearY: 742, titleY: 320, zoneY: 44, rows: [95, 133, 171, 209], lx: 0},
  {letter: 'b', zone: 'Transitional forest zone', letterY: 826, irsY: 834, yearY: 1603, titleY: 1162, zoneY: 863, rows: [913, 951, 989, 1027], lx: 0},
  {letter: 'c', zone: 'Coastal savannah zone', letterY: 1686, irsY: 1687, yearY: 2456, titleY: 2015, zoneY: 1717, rows: [1767, 1805, 1843, 1881], lx: 2}
];
panels.forEach(p => {
  annotations.push({text: '<b>' + p.letter + '</b>', x: px(29), y: py(p.letterY), xref: 'paper', yref: 'paper',
    xanchor: 'center', yanchor: 'middle', showarrow: false, font: {family: FONT, size: 38, color: 'black'}});
  annotations.push({text: 'IRS coverage: 90% &amp; LLINs cov: baseline', x: px(1176), y: py(p.irsY), xref: 'paper', yref: 'paper',
    xanchor: 'center', yanchor: 'middle', showarrow: false, font: {family: FONT, size: 23, color: 'black'}});
  annotations.push({text: 'Year', x: px(846), y: py(p.yearY), xref: 'paper', yref: 'paper',
    xanchor: 'center', yanchor: 'middle', showarrow: false, font: {family: FONT, size: 37, color: 'black'}});
  annotations.push({text: 'Uncomp. malaria cases (x10<sup>4</sup>)', x: px(33), y: py(p.titleY), xref: 'paper', yref: 'paper',
    xanchor: 'center', yanchor: 'middle', textangle: -90, showarrow: false, font: {family: FONT, size: 38, color: 'black'}});
  annotations.push({text: p.zone, x: px(179), y: py(p.zoneY), xref: 'paper', yref: 'paper',
    xanchor: 'left', yanchor: 'middle', showarrow: false, font: {family: FONT, size: 32, color: 'black'}});
  legendItems.forEach((it, i) => {
    const yy = py(p.rows[i]);
    shapes.push({type: 'line', xref: 'paper', yref: 'paper', x0: px(226 + p.lx), x1: px(286 + p.lx), y0: yy, y1: yy,
      line: {color: it.color, width: 3.5, dash: it.dash}});
    annotations.push({text: it.label, x: px(311 + p.lx), y: yy, xref: 'paper', yref: 'paper',
      xanchor: 'left', yanchor: 'middle', showarrow: false, font: {family: FONT, size: 32, color: 'black'}});
  });
});

const layout = {
  width: W, height: H,
  margin: {l: 0, r: 0, t: 0, b: 0},
  paper_bgcolor: 'white', plot_bgcolor: 'white',
  font: {family: FONT, color: 'black'},
  showlegend: false,
  xaxis: xAxis('y'), xaxis2: xAxis('y2'), xaxis3: xAxis('y3'),
  yaxis: yAxis('x', [py(653), py(17.6)], [-1.1, 28.03], aTicks),
  yaxis2: yAxis('x2', [py(1515), py(835.5)], [-1.55, 40], bTicks),
  yaxis3: yAxis('x3', [py(2370), py(1688.5)], [-0.4, 10], cTicks),
  annotations: annotations,
  shapes: shapes
};

Plotly.newPlot('chart', data, layout, {displayModeBar: false, staticPlot: true});
</script>
</body>
</html>
